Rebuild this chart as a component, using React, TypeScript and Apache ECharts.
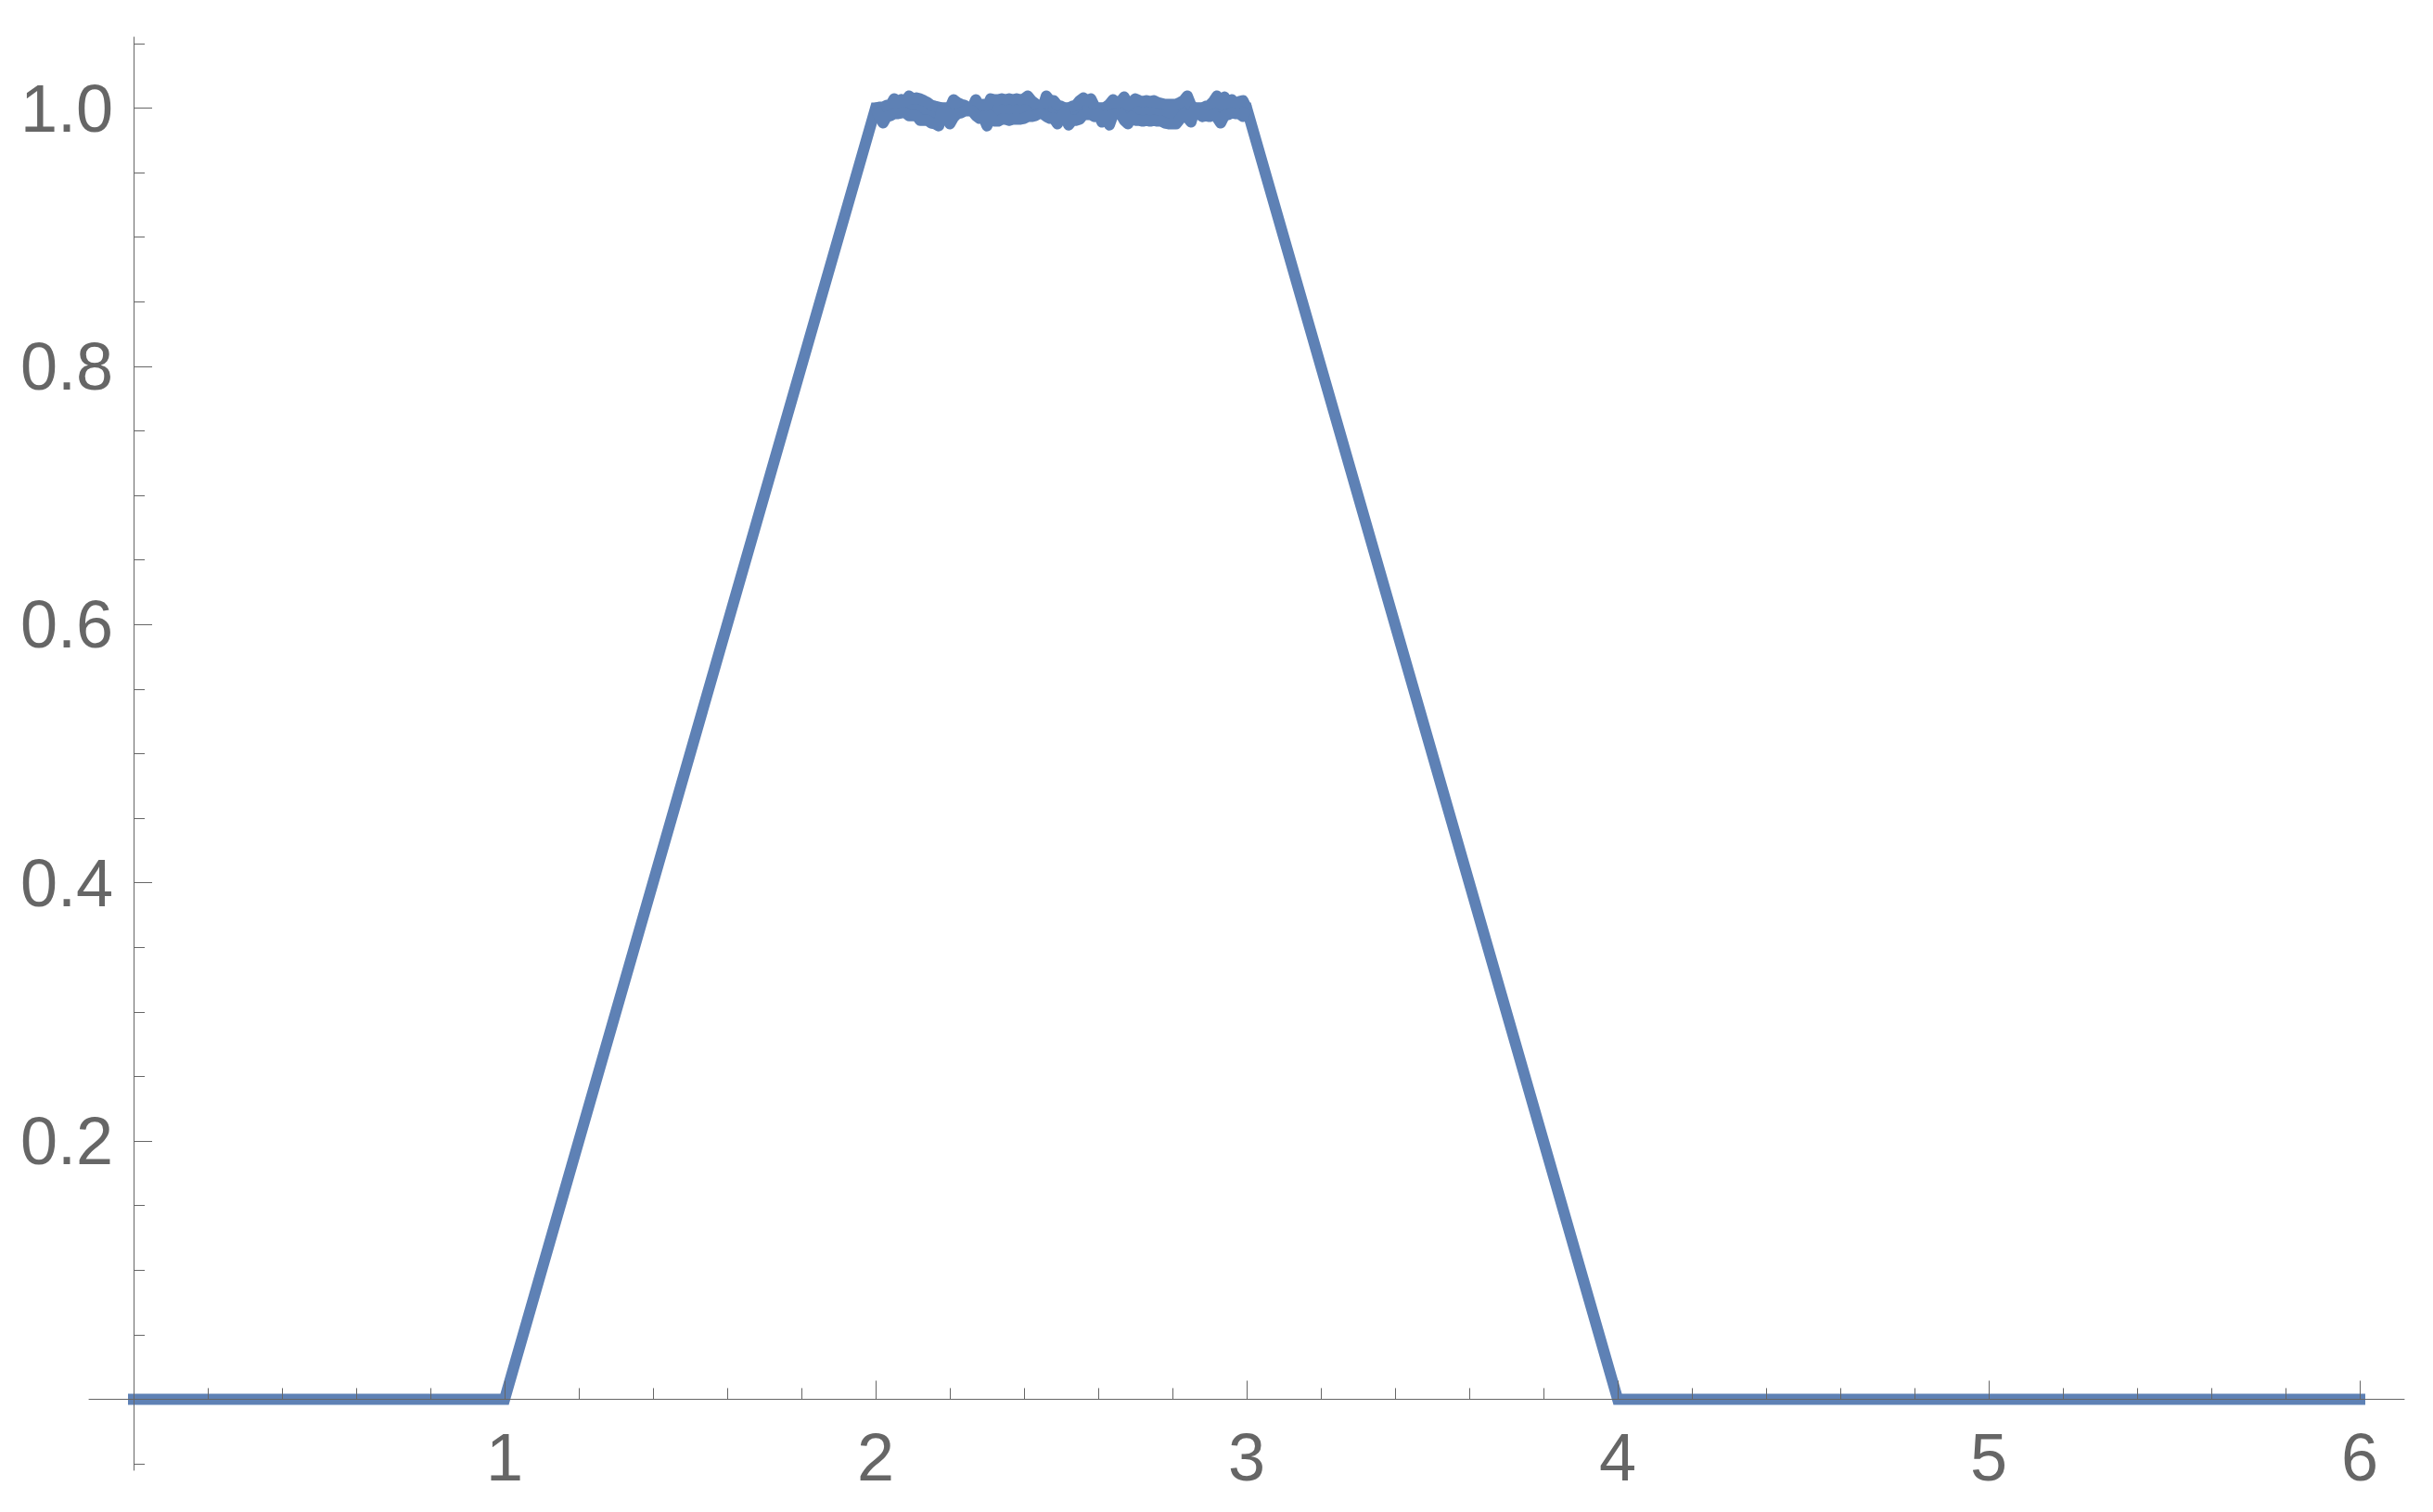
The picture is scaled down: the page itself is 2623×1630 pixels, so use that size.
import React, { useEffect, useRef } from "react";
import * as echarts from "echarts";

// Outline of the curve (x, y)
const outlineX = [0, 1, 2, 3, 4, 6];
const outlineY = [0, 0, 1, 1, 0, 0];

// Plateau (2 < x < 3): the curve oscillates very fast; readings of the upper and
// lower envelope of the oscillation, one pair every 0.01 starting at x = 2.01
const plateauStart = 2.01;
const plateauStep = 0.01;
const plateauHigh = [
  1.0007, 1.0007, 1.0022, 1.0022, 1.0072, 1.0029, 1.0065, 1.005, 1.0094, 1.0072,
  1.0079, 1.0072, 1.0058, 1.0043, 1.0022, 1.0014, 1.0007, 1.0, 1.0, 1.0,
  1.0065, 1.0043, 1.0029, 1.0022, 1.0, 1.0, 1.0065, 1.0014, 1.0029, 1.0007,
  1.0072, 1.0065, 1.0065, 1.0072, 1.0065, 1.0072, 1.0065, 1.0072, 1.0065, 1.0072,
  1.0094, 1.0058, 1.0036, 1.0, 1.0, 1.0094, 1.0058, 1.0058, 1.0022, 1.0014,
  1.0, 1.0, 1.0014, 1.0022, 1.0058, 1.0079, 1.0058, 1.0072, 1.0014, 1.0,
  1.0, 1.0007, 1.0029, 1.0065, 1.0043, 1.005, 1.0086, 1.0022, 1.0043, 1.0072,
  1.0058, 1.005, 1.0058, 1.005, 1.0058, 1.0043, 1.0036, 1.0029, 1.0029, 1.0029,
  1.0029, 1.0043, 1.0058, 1.0094, 1.0022, 1.0, 1.0, 1.0, 1.0014, 1.0022,
  1.005, 1.0094, 1.0029, 1.0086, 1.0029, 1.0065, 1.0029, 1.005, 1.0058,
];
const plateauLow = [
  0.9935, 0.9885, 0.9935, 0.9942, 0.9957, 0.9957, 0.9964, 0.9964, 0.9942, 0.9942,
  0.9942, 0.9906, 0.9906, 0.9906, 0.9885, 0.9878, 0.9863, 0.9993, 0.9978, 0.9878,
  0.9928, 0.9957, 0.9964, 0.9978, 0.9978, 0.9978, 0.9942, 0.9921, 0.9935, 0.9863,
  0.9942, 0.9899, 0.9899, 0.9914, 0.9914, 0.9906, 0.9914, 0.9914, 0.9914, 0.9921,
  0.9935, 0.9935, 0.9942, 0.9957, 0.9957, 0.9935, 0.9921, 0.9921, 0.9878, 0.9928,
  0.9971, 0.987, 0.9906, 0.9906, 0.9914, 0.995, 0.995, 0.995, 0.9935, 0.9957,
  0.9892, 0.9942, 0.987, 0.995, 0.9957, 0.9957, 0.9906, 0.9878, 0.9935, 0.9906,
  0.9906, 0.9899, 0.9906, 0.9899, 0.9906, 0.9899, 0.9899, 0.9885, 0.9878, 0.9878,
  0.9878, 0.9914, 0.9957, 0.9928, 0.9892, 0.9993, 0.9964, 0.9935, 0.9942, 0.9935,
  0.995, 0.9928, 0.9885, 0.9942, 0.995, 0.9964, 0.9957, 0.9957, 0.9935,
];

// Axis ticks and labels
const xMin = -0.12;
const xMax = 6.12;
const yMin = -0.055;
const yMax = 1.055;
const xMajorTicks = [0, 1, 2, 3, 4, 5, 6];
const xLabels = [1, 2, 3, 4, 5, 6];
const xMinorTicks = [
  0.2, 0.4, 0.6, 0.8, 1.2, 1.4, 1.6, 1.8, 2.2, 2.4, 2.6, 2.8,
  3.2, 3.4, 3.6, 3.8, 4.2, 4.4, 4.6, 4.8, 5.2, 5.4, 5.6, 5.8,
];
const yMajorTicks = [0, 0.2, 0.4, 0.6, 0.8, 1.0];
const yLabels = [0.2, 0.4, 0.6, 0.8, 1.0];
const yMinorTicks = [
  -0.05, 0.05, 0.1, 0.15, 0.25, 0.3, 0.35, 0.45, 0.5, 0.55, 0.65, 0.7, 0.75,
  0.85, 0.9, 0.95, 1.05,
];

const AXIS_COLOR = "#666666";
const LINE_COLOR = "#5E81B5";
const FONT = "'Liberation Sans', Arial, sans-serif";

function outlineData(): number[][] {
  return outlineX.map((x, i) => [x, outlineY[i]]);
}

// envelope points, including the plateau's corners at x = 2 and x = 3
function envelope(): { x: number[]; hi: number[]; lo: number[] } {
  const x = [2];
  const hi = [1];
  const lo = [1];
  plateauHigh.forEach((h, i) => {
    x.push(plateauStart + i * plateauStep);
    hi.push(h);
    lo.push(plateauLow[i]);
  });
  x.push(3);
  hi.push(1);
  lo.push(1);
  return { x, hi, lo };
}

export default function App() {
  const ref = useRef<HTMLDivElement>(null);

  useEffect(() => {
    if (!ref.current) return;
    const chart = echarts.init(ref.current, null, { renderer: "svg" });
    const axisLineStyle = { color: AXIS_COLOR, width: 1 };
    const env = envelope();
    const hiLine = env.x.map((x, i) => [x, env.hi[i]]);
    const loLine = env.x.map((x, i) => [x, env.lo[i]]);
    const bandSegments: number[][] = [];
    for (let i = 0; i < env.x.length - 1; i++) {
      bandSegments.push([
        env.x[i], env.hi[i], env.lo[i],
        env.x[i + 1], env.hi[i + 1], env.lo[i + 1],
      ]);
    }

    const option = {
      animation: false,
      backgroundColor: "#ffffff",
      grid: {
        left: 96,
        right: 31,
        top: 40,
        bottom: 45,
        containLabel: false,
        outerBoundsMode: "none",
      },
      xAxis: [
        {
          type: "value",
          min: xMin,
          max: xMax,
          position: "bottom",
          z: 10,
          axisLine: { show: true, onZero: true, lineStyle: axisLineStyle },
          axisTick: {
            show: true,
            inside: true,
            length: 20,
            customValues: xMajorTicks,
            lineStyle: axisLineStyle,
          },
          axisLabel: {
            show: true,
            customValues: xLabels,
            margin: -50,
            fontSize: 72,
            fontFamily: FONT,
            color: AXIS_COLOR,
            formatter: (v: number) => String(v),
          },
          splitLine: { show: false },
        },
        {
          type: "value",
          min: xMin,
          max: xMax,
          position: "bottom",
          z: 10,
          axisLine: { show: false, onZero: true },
          axisTick: {
            show: true,
            inside: true,
            length: 12,
            customValues: xMinorTicks,
            lineStyle: axisLineStyle,
          },
          axisLabel: { show: false },
          splitLine: { show: false },
        },
      ],
      yAxis: [
        {
          type: "value",
          min: yMin,
          max: yMax,
          position: "left",
          z: 10,
          axisLine: { show: true, onZero: true, lineStyle: axisLineStyle },
          axisTick: {
            show: true,
            inside: true,
            length: 20,
            customValues: yMajorTicks,
            lineStyle: axisLineStyle,
          },
          axisLabel: {
            show: true,
            customValues: yLabels,
            margin: -26,
            fontSize: 72,
            fontFamily: FONT,
            color: AXIS_COLOR,
            formatter: (v: number) => v.toFixed(1),
          },
          splitLine: { show: false },
        },
        {
          type: "value",
          min: yMin,
          max: yMax,
          position: "left",
          z: 10,
          axisLine: { show: false, onZero: true },
          axisTick: {
            show: true,
            inside: true,
            length: 12,
            customValues: yMinorTicks,
            lineStyle: axisLineStyle,
          },
          axisLabel: { show: false },
          splitLine: { show: false },
        },
      ],
      series: [
        {
          type: "line",
          name: "outline",
          data: outlineData(),
          symbol: "none",
          showSymbol: false,
          silent: true,
          z: 2,
          lineStyle: { color: LINE_COLOR, width: 12, cap: "square", join: "miter" },
        },
        {
          type: "custom",
          name: "band",
          data: bandSegments,
          silent: true,
          z: 3,
          encode: { x: [0, 3], y: [1, 2, 4, 5] },
          renderItem: (_params: any, api: any) => {
            const pts = [
              api.coord([api.value(0), api.value(1)]),
              api.coord([api.value(3), api.value(4)]),
              api.coord([api.value(3), api.value(5)]),
              api.coord([api.value(0), api.value(2)]),
            ];
            return {
              type: "polygon",
              shape: { points: pts },
              style: { fill: LINE_COLOR, stroke: LINE_COLOR, lineWidth: 1 },
            };
          },
        },
        {
          type: "line",
          name: "high",
          data: hiLine,
          symbol: "none",
          showSymbol: false,
          silent: true,
          z: 3,
          lineStyle: { color: LINE_COLOR, width: 12, cap: "butt", join: "round" },
        },
        {
          type: "line",
          name: "low",
          data: loLine,
          symbol: "none",
          showSymbol: false,
          silent: true,
          z: 3,
          lineStyle: { color: LINE_COLOR, width: 12, cap: "butt", join: "round" },
        },
      ],
    };
    chart.setOption(option as any);
    return () => chart.dispose();
  }, []);

  return (
    <div
      ref={ref}
      style={{ position: "absolute", left: 0, top: 0, width: 2623, height: 1630 }}
    />
  );
}
